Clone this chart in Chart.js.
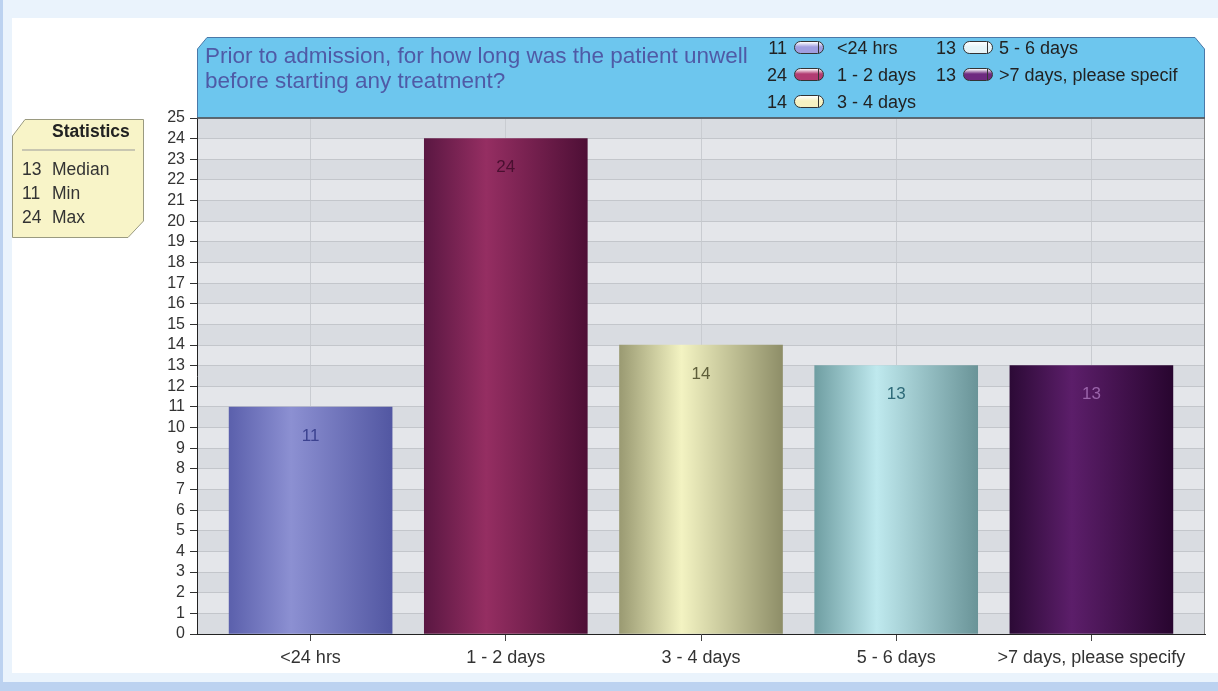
<!DOCTYPE html>
<html>
<head>
<meta charset="utf-8">
<script src="https://cdn.jsdelivr.net/npm/chart.js@4.4.0/dist/chart.umd.min.js"></script>
<style>
  body { margin: 0; width: 1218px; height: 691px; position: relative; overflow: hidden;
    background: #eaf3fc; font-family: "Liberation Sans", Arial, sans-serif; }
  #leftStrip { position: absolute; left: 0; top: 0; width: 3px; height: 691px; background: #bcd2f0; }
  #bottomStrip { position: absolute; left: 0; top: 682px; width: 1218px; height: 9px; background: #bcd2f0; }
  #panel { position: absolute; left: 12px; top: 18px; width: 1206px; height: 655px; background: #fff; }
  #chart { position: absolute; left: 0; top: 0; }
  #header { position: absolute; left: 197px; top: 37px; width: 1008px; height: 81px; }
  #header svg { position: absolute; left: 0; top: 0; }
  #title { position: absolute; left: 8px; top: 6px; font-size: 22.5px; line-height: 25px; color: #4f5aa6; }
  .lg { position: absolute; font-size: 18px; color: #222; white-space: nowrap; }
  .num { position: absolute; text-align: right; width: 30px; }
  .sw { position: absolute; width: 28px; height: 11px; border: 1.5px solid #333; border-radius: 7px; top: 3px; }
  .sw span { position: absolute; right: 4px; top: 0; width: 0; height: 11px; border-left: 1.5px solid #333; }
  .lbl { position: absolute; }
  #stats { position: absolute; left: 12px; top: 119px; width: 132px; height: 119px; }
  #stats svg { position: absolute; left: 0; top: 0; }
  .st { position: absolute; font-size: 17.5px; color: #333; white-space: nowrap; }
</style>
</head>
<body>
<div id="leftStrip"></div>
<div id="bottomStrip"></div>
<div id="panel"></div>
<canvas id="chart" width="1218" height="691"></canvas>
<div id="header">
  <svg width="1008" height="82">
    <polygon points="0.5,12 10,0.5 998,0.5 1007.5,12 1007.5,81 0.5,81" fill="#6dc6ee" stroke="#4a78a8" stroke-width="1"/>
    <line x1="0" y1="81" x2="1008" y2="81" stroke="#555" stroke-width="1.5"/>
  </svg>
  <div id="title">Prior to admission, for how long was the patient unwell<br>before starting any treatment?</div>
</div>
<div id="stats">
  <svg width="133" height="120">
    <polygon points="0.5,17 13,0.5 131.5,0.5 131.5,102 116,118.5 0.5,118.5" fill="#f8f4c8" stroke="#9a9a80" stroke-width="1"/>
    <line x1="10" y1="31" x2="123" y2="31" stroke="#999" stroke-width="1"/>
  </svg>
</div>
<script>
// chart data
const categories = ["<24 hrs", "1 - 2 days", "3 - 4 days", "5 - 6 days", ">7 days, please specify"];
const legendLabels = ["<24 hrs", "1 - 2 days", "3 - 4 days", "5 - 6 days", ">7 days, please specif"];
const values = [11, 24, 14, 13, 13];
const yTicks = [0, 25];
const statsLabels = ["Median", "Min", "Max"];
const statsValues = [13, 11, 24];

// styles
const barStops = [
  ["#5b60ac", "#8c90d2", "#5257a2"],
  ["#5a1742", "#952e62", "#4e0f36"],
  ["#9a9a72", "#f3f3c2", "#8e8e68"],
  ["#6f9ea2", "#bfe9ee", "#6a9498"],
  ["#2c0a36", "#5c1e6a", "#28052f"]
];
const valueColors = ["#3c4290", "#4a0f30", "#5e5e3a", "#2e6a78", "#9a64aa"];
const swatchColors = ["#a09ee0", "#b23c72", "#f6f2c2", "#e6f4f8", "#6e2a80"];
const BAR_W = 163;

// legend inside header
const header = document.querySelector("#header");
const legendPos = [[0, 0], [0, 1], [0, 2], [1, 0], [1, 1]];
legendLabels.forEach(function (label, i) {
  const col = legendPos[i][0], row = legendPos[i][1];
  const item = document.createElement("div");
  item.className = "lg";
  item.style.left = (col === 0 ? 560 : 729) + "px";
  item.style.top = (1 + row * 27) + "px";
  item.innerHTML = '<div class="num">' + values[i] + '</div>' +
    '<div class="sw" style="left:37px;background:linear-gradient(to bottom,#fff 0%,' + swatchColors[i] + ' 45%,' + swatchColors[i] + ' 100%)"><span></span></div>' +
    '<div class="lbl" style="left:' + (col === 0 ? 80 : 73) + 'px"></div>';
  item.querySelector(".lbl").textContent = label;
  header.appendChild(item);
});

// statistics box
const stats = document.querySelector("#stats");
function addStat(text, left, top, bold) {
  const d = document.createElement("div");
  d.className = "st";
  d.style.left = left + "px";
  d.style.top = top + "px";
  if (bold) { d.style.fontWeight = "bold"; d.style.color = "#222"; }
  d.textContent = text;
  stats.appendChild(d);
}
addStat("Statistics", 40, 2, true);
statsLabels.forEach(function (label, i) {
  addStat(String(statsValues[i]), 10, 40 + i * 24, false);
  addStat(label, 40, 40 + i * 24, false);
});

// plot background bands, value labels and right border
const backgroundPlugin = {
  id: "bands",
  beforeDraw(chart) {
    const { ctx, chartArea, scales } = chart;
    ctx.save();
    for (let v = yTicks[0]; v < yTicks[1]; v++) {
      const yTop = scales.y.getPixelForValue(v + 1);
      const yBot = scales.y.getPixelForValue(v);
      ctx.fillStyle = v % 2 === 0 ? "#d9dce1" : "#e4e6ea";
      ctx.fillRect(chartArea.left, yTop, chartArea.right - chartArea.left, yBot - yTop);
    }
    ctx.restore();
  },
  afterDatasetsDraw(chart) {
    const { ctx, chartArea } = chart;
    const meta = chart.getDatasetMeta(0);
    ctx.save();
    ctx.font = "17px 'Liberation Sans', Arial, sans-serif";
    ctx.textAlign = "center";
    ctx.textBaseline = "middle";
    meta.data.forEach(function (bar, i) {
      ctx.fillStyle = valueColors[i];
      ctx.fillText(String(values[i]), bar.x, bar.y + 29);
    });
    ctx.strokeStyle = "#888";
    ctx.lineWidth = 1;
    ctx.beginPath();
    ctx.moveTo(chartArea.right - 0.5, chartArea.top);
    ctx.lineTo(chartArea.right - 0.5, chartArea.bottom);
    ctx.stroke();
    ctx.restore();
  }
};

function barGradient(context) {
  const chart = context.chart;
  const i = context.dataIndex;
  if (i === undefined || !chart.scales.x) return "#888";
  const cx = chart.scales.x.getPixelForValue(i);
  if (!isFinite(cx)) return barStops[i][1];
  const g = chart.ctx.createLinearGradient(cx - BAR_W / 2, 0, cx + BAR_W / 2, 0);
  g.addColorStop(0, barStops[i][0]);
  g.addColorStop(0.38, barStops[i][1]);
  g.addColorStop(1, barStops[i][2]);
  return g;
}

const ctx = document.querySelector("#chart").getContext("2d");
new Chart(ctx, {
  type: "bar",
  data: {
    datasets: [{
      data: values.map(function (v, i) { return { x: i, y: v }; }),
      backgroundColor: barGradient,
      borderWidth: 0,
      barThickness: BAR_W
    }]
  },
  options: {
    responsive: false,
    animation: false,
    devicePixelRatio: 1,
    layout: { padding: { left: 152, top: 118, right: 13, bottom: 17 } },
    plugins: { legend: { display: false }, tooltip: { enabled: false } },
    scales: {
      x: {
        type: "linear",
        offset: false,
        min: -0.582,
        max: categories.length - 1 + 0.582,
        afterBuildTicks: function (scale) {
          scale.ticks = categories.map(function (c, i) { return { value: i }; });
        },
        afterFit: function (scale) { scale.height = 40; },
        ticks: {
          autoSkip: false,
          maxRotation: 0,
          padding: 6,
          color: "#333",
          font: { family: "'Liberation Sans', Arial, sans-serif", size: 18 },
          callback: function (v) { return categories[v]; }
        },
        grid: { offset: false, color: "#c9ccd1", tickColor: "#444", tickLength: 7 },
        border: { color: "#222", width: 1 }
      },
      y: {
        min: yTicks[0],
        max: yTicks[1],
        afterFit: function (scale) { scale.width = 45; },
        ticks: {
          stepSize: 1,
          autoSkip: false,
          padding: 5,
          color: "#333",
          font: { family: "'Liberation Sans', Arial, sans-serif", size: 16 }
        },
        grid: { color: "#c3c6cb", tickColor: "#333", tickLength: 7 },
        border: { color: "#222", width: 1 }
      }
    }
  },
  plugins: [backgroundPlugin]
});
</script>
</body>
</html>
